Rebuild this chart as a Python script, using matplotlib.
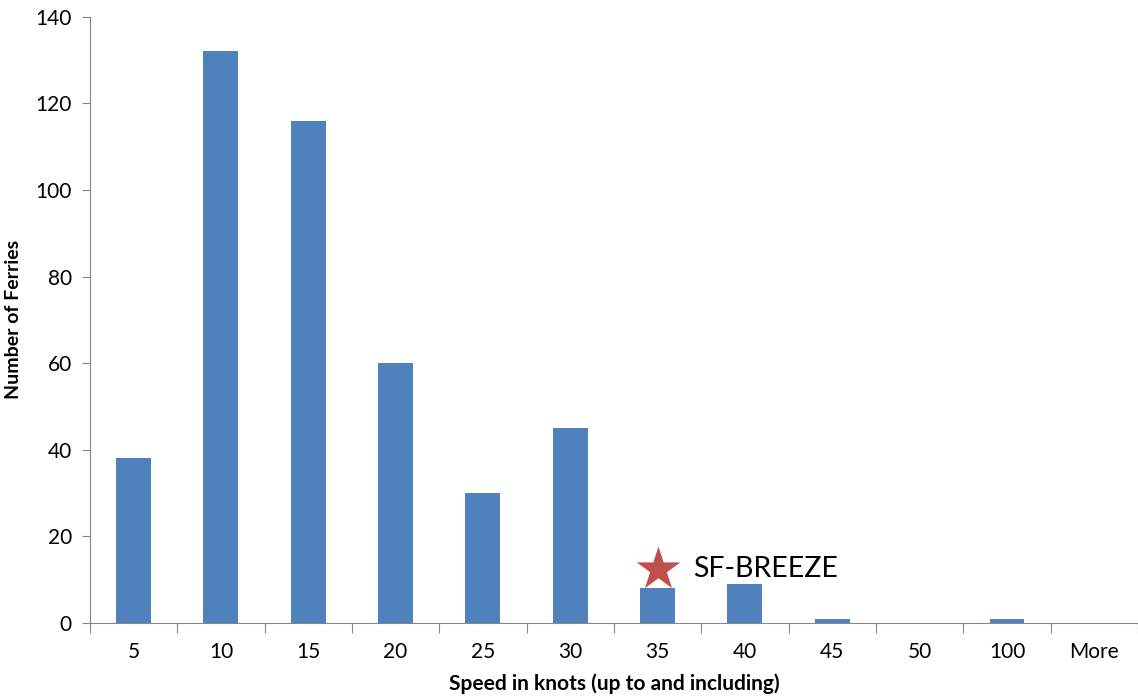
import matplotlib.pyplot as plt
import numpy as np

# Speed bins (knots) and ferry counts
categories = ['5', '10', '15', '20', '25', '30', '35', '40', '45', '50', '100', 'More']
counts = [38, 132, 116, 60, 30, 45, 8, 9, 1, 0, 1, 0]

# SF-BREEZE marker
marker_bin = '35'
marker_value = 12.5
marker_label = 'SF-BREEZE'

plt.rcParams['font.family'] = ['Lato', 'DejaVu Sans']

fig = plt.figure(figsize=(11.38, 7), dpi=100)
ax = fig.add_axes([0.079, 0.11, 0.921, 0.866])

x = np.arange(len(categories))
ax.bar(x, counts, width=0.4, color='#4F81BD', zorder=2)

# star + label
mi = categories.index(marker_bin)
ax.scatter([mi], [marker_value], marker='*', s=1100, color='#C0504D', zorder=3, linewidths=0)
ax.text(mi + 0.41, marker_value, marker_label, fontsize=20.5, va='center', ha='left', color='black')

ax.set_xlim(-0.5, len(categories) - 0.5)
ax.set_ylim(0, 140)
ax.set_yticks(np.arange(0, 141, 20))

# category ticks at boundaries, labels centered
ax.set_xticks(np.arange(-0.5, len(categories) + 0.5, 1))
ax.set_xticklabels([])
ax.set_xticks(x, minor=True)
ax.set_xticklabels(categories, minor=True)
ax.tick_params(axis='x', which='major', length=7, color='#868686', direction='out')
ax.tick_params(axis='x', which='minor', length=0, labelsize=15, pad=14)
ax.tick_params(axis='y', length=6, color='#868686', labelsize=15, pad=7)

for s in ['top', 'right']:
    ax.spines[s].set_visible(False)
ax.spines['left'].set_color('#868686')
ax.spines['bottom'].set_color('#868686')

ax.set_xlabel('Speed in knots (up to and including)', fontsize=15, fontweight='bold', labelpad=8)
ax.set_ylabel('Number of Ferries', fontsize=14, fontweight='bold', labelpad=10)

fig.savefig('out.png', dpi=100)
